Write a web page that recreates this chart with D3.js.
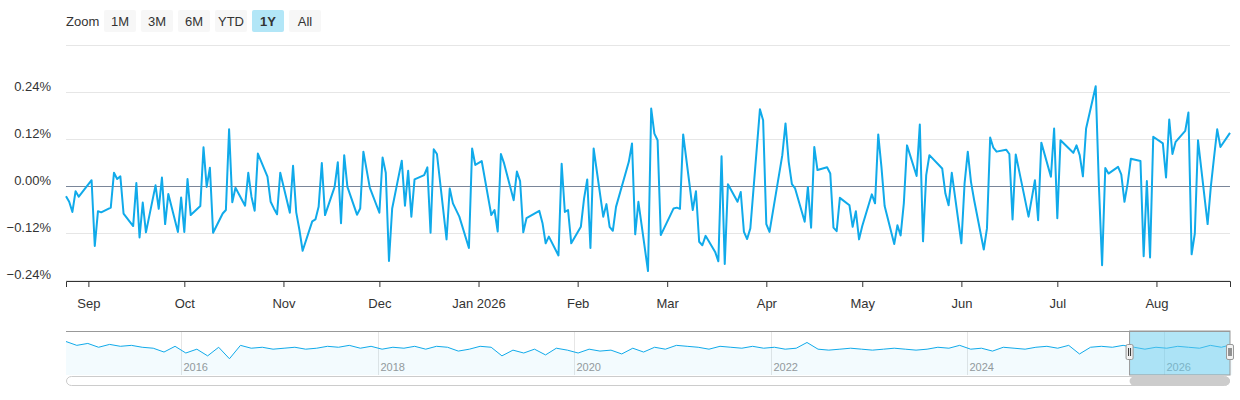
<!DOCTYPE html>
<html>
<head>
<meta charset="utf-8">
<script src="https://cdn.jsdelivr.net/npm/d3@7"></script>
<style>
  body { margin: 0; background: #fff; font-family: "Liberation Sans", Arial, sans-serif; }
</style>
</head>
<body>
<svg id="chart" width="1240" height="400"></svg>
<script>
// daily change, percent (trading days from 2025-08-25)
const values = [
  -0.025,-0.039,-0.065,-0.012,-0.026,0.016,-0.152,-0.063,-0.066,-0.054,0.035,0.019,0.026,-0.069,-0.101,0.009,
  -0.130,-0.041,-0.117,0.003,-0.057,0.023,-0.096,-0.019,-0.116,-0.028,-0.116,0.019,-0.073,-0.050,0.100,-0.001,
  0.048,-0.118,-0.069,-0.060,0.146,-0.040,-0.003,-0.049,0.035,-0.026,-0.062,0.084,0.025,-0.039,-0.056,-0.071,
  0.035,-0.067,0.053,-0.066,-0.111,-0.164,-0.089,-0.084,-0.052,0.060,-0.073,-0.001,0.062,-0.094,0.080,
  -0.001,-0.072,-0.056,0.089,-0.003,-0.067,0.074,0.035,-0.190,-0.056,0.066,-0.049,0.040,-0.077,0.018,0.029,
  0.049,-0.118,0.095,0.083,-0.135,-0.005,-0.043,-0.077,-0.157,0.097,0.055,0.065,-0.073,-0.060,-0.115,0.083,
  0.059,-0.035,0.038,0.014,-0.117,-0.081,-0.062,-0.093,-0.145,-0.128,-0.176,0.058,-0.065,-0.060,-0.145,-0.103,
  -0.031,0.018,-0.157,0.097,-0.077,-0.045,-0.103,-0.113,-0.052,0.063,0.110,-0.122,-0.039,-0.216,
  0.199,0.135,0.118,-0.124,-0.073,-0.056,-0.054,-0.057,0.133,-0.060,-0.012,-0.141,-0.150,-0.126,-0.167,-0.191,
  0.077,-0.198,0.006,-0.039,-0.014,-0.116,-0.134,-0.107,0.197,0.169,-0.096,-0.116,0.080,0.161,0.063,0.006,
  -0.005,-0.090,-0.001,-0.105,0.101,0.042,0.049,0.033,-0.105,-0.114,-0.029,-0.048,-0.103,-0.063,-0.135,-0.101,
  -0.020,-0.043,0.133,0.050,-0.050,-0.147,-0.099,-0.125,-0.043,0.105,0.027,0.158,-0.140,
  0.029,0.080,0.046,-0.018,-0.048,0.035,-0.145,0.008,0.089,0.012,-0.035,-0.161,-0.107,0.125,0.099,0.089,
  0.094,0.083,-0.084,0.082,-0.077,-0.031,0.016,-0.086,0.112,0.025,0.148,-0.081,0.118,0.086,0.105,0.080,
  0.026,0.148,0.256,0.003,-0.201,0.047,0.033,0.050,0.031,-0.039,0.008,0.071,0.065,-0.178,0.014,-0.181,
  0.127,0.110,0.023,0.171,0.083,0.114,0.142,0.189,-0.173,-0.120,0.118,-0.096,-0.001,0.074,0.146,0.101,0.137
];
const holidays = ['2025-09-01','2025-11-27','2025-12-25','2026-01-01','2026-01-19','2026-02-16',
  '2026-04-03','2026-05-25','2026-06-19','2026-07-03'];
const startDate = '2025-08-25';

// navigator: long history, one value roughly every 5 weeks (late 2014 .. 2026)
const navValues = [
  0.9,0.5,0.7,0.3,0.6,0.4,0.5,0.3,0.2,-0.2,0.4,-0.3,0.1,-0.6,0.3,-0.9,
  0.5,0.2,0.3,0.1,0.2,0.3,0.1,0.2,0.4,0.3,0.5,0.2,0.4,0.1,0.3,0.2,
  0.4,0.1,0.4,0.3,-0.1,0.1,0.4,0.3,-0.6,0.0,-0.3,0.1,-0.5,0.2,0.0,-0.3,
  0.1,-0.1,0.0,-0.4,0.2,-0.2,0.3,0.1,0.5,0.4,0.3,0.1,0.4,0.3,0.2,0.4,
  0.2,0.3,0.1,0.2,0.8,0.1,0.0,0.1,0.2,0.1,0.0,0.1,0.2,0.1,0.0,0.1,
  0.3,0.2,0.5,0.1,0.2,-0.1,0.3,0.2,0.1,0.3,0.4,0.2,0.5,-0.4,0.3,0.4,
  0.3,0.5,0.3,0.1,0.3,0.2,0.4,0.3,0.2,0.5,0.3,0.6
];
const navStart = '2014-11-01', navEnd = '2026-09-02';
const navYears = ['2016','2018','2020','2022','2024','2026'];

const zoomButtons = ['1M','3M','6M','YTD','1Y','All'];
const selectedButton = '1Y';
const yTicks = [-0.24,-0.12,0,0.12,0.24,0.36];

// build trading day dates
const parse = d3.timeParse('%Y-%m-%d');
const fmt = d3.timeFormat('%Y-%m-%d');
const dates = [];
let day = parse(startDate);
while (dates.length < values.length) {
  const wd = day.getDay();
  if (wd !== 0 && wd !== 6 && !holidays.includes(fmt(day))) dates.push(day);
  day = d3.timeDay.offset(day, 1);
}
const data = values.map((v, i) => ({date: dates[i], value: v}));

const svg = d3.select('#chart');
const font = '"Liberation Sans", Arial, sans-serif';
const left = 66, right = 1230;

// range selector
const rs = svg.append('g').attr('font-family', font).attr('font-size', 13);
rs.append('text').attr('x', 66).attr('y', 26).attr('fill', '#333').text('Zoom');
zoomButtons.forEach((b, i) => {
  const x = 104 + i * 37;
  const sel = b === selectedButton;
  rs.append('rect').attr('x', x).attr('y', 10).attr('width', 32).attr('height', 22).attr('rx', 2)
    .attr('fill', sel ? '#b2e6f7' : '#f7f7f7');
  rs.append('text').attr('x', x + 16).attr('y', 26).attr('text-anchor', 'middle')
    .attr('fill', '#333').attr('font-weight', sel ? 'bold' : 'normal').text(b);
});

// main chart
const x = d3.scaleTime().domain(d3.extent(dates)).range([left, right]);
const y = d3.scaleLinear().domain([-0.24, 0.36]).range([280.5, 45.5]);

const grid = svg.append('g');
yTicks.forEach(t => {
  grid.append('line').attr('x1', left).attr('x2', right).attr('y1', y(t)).attr('y2', y(t))
    .attr('stroke', t === 0 ? '#7a8699' : '#e6e6e6').attr('stroke-width', 1);
  if (t < 0.3) {
    svg.append('text').attr('x', 51).attr('y', y(t) - 2).attr('text-anchor', 'end')
      .attr('font-family', font).attr('font-size', 13).attr('fill', '#333')
      .text(d3.format('.2f')(t) + '%');
  }
});

const xAxis = d3.axisBottom(x)
  .ticks(d3.timeMonth.every(1))
  .tickSize(6)
  .tickPadding(12)
  .tickFormat(d => d.getMonth() === 0 ? d3.timeFormat('%b %Y')(d) : d3.timeFormat('%b')(d));
const xg = svg.append('g').attr('transform', 'translate(0,281)').call(xAxis);
xg.select('.domain').attr('stroke', '#333');
xg.selectAll('.tick line').attr('stroke', '#333');
xg.selectAll('text').attr('font-family', font).attr('font-size', 13).attr('fill', '#333');

svg.append('path').datum(data)
  .attr('fill', 'none').attr('stroke', '#10aaea').attr('stroke-width', 2)
  .attr('stroke-linejoin', 'round')
  .attr('d', d3.line().x(d => x(d.date)).y(d => y(d.value)));

// navigator
const navTop = 331, navBottom = 375;
const nx = d3.scaleTime().domain([parse(navStart), parse(navEnd)]).range([left, right]);
const nDates = navValues.map((v, i) => d3.timeDay.offset(parse(navStart), Math.round(i * 4331 / (navValues.length - 1))));
const ny = d3.scaleLinear().domain([-2.6, 2.0]).range([navBottom, navTop]);
const nav = svg.append('g');
navYears.forEach(yr => {
  const xx = Math.round(nx(parse(yr + '-01-01'))) + 0.5;
  nav.append('line').attr('x1', xx).attr('x2', xx).attr('y1', navTop).attr('y2', navBottom)
    .attr('stroke', '#e6e6e6');
  nav.append('text').attr('x', xx + 2).attr('y', navBottom - 4).attr('font-family', font)
    .attr('font-size', 11).attr('fill', '#999').text(yr);
});
const navData = navValues.map((v, i) => ({date: nDates[i], value: v}));
nav.append('path').datum(navData).attr('fill', '#10aaea').attr('fill-opacity', 0.05)
  .attr('d', d3.area().x(d => nx(d.date)).y0(navBottom).y1(d => ny(d.value)));
nav.append('path').datum(navData).attr('fill', 'none').attr('stroke', '#10aaea').attr('stroke-width', 1)
  .attr('d', d3.line().x(d => nx(d.date)).y(d => ny(d.value)));
const s0 = nx(dates[0]), s1 = right;
nav.append('rect').attr('x', s0).attr('y', navTop).attr('width', s1 - s0).attr('height', navBottom - navTop)
  .attr('fill', 'rgba(102,204,238,0.5)');
nav.append('line').attr('x1', left).attr('x2', right).attr('y1', navTop + 0.5).attr('y2', navTop + 0.5)
  .attr('stroke', '#999');
nav.append('rect').attr('x', s0).attr('y', navTop).attr('width', s1 - s0).attr('height', navBottom - navTop)
  .attr('fill', 'none').attr('stroke', '#999');
[s0, s1].forEach(hx => {
  nav.append('rect').attr('x', hx - 3.5).attr('y', 344.5).attr('width', 7).attr('height', 15).attr('rx', 1.5)
    .attr('fill', '#f2f2f2').attr('stroke', '#999');
  nav.append('line').attr('x1', hx - 1).attr('x2', hx - 1).attr('y1', 348).attr('y2', 356).attr('stroke', '#333');
  nav.append('line').attr('x1', hx + 1).attr('x2', hx + 1).attr('y1', 348).attr('y2', 356).attr('stroke', '#333');
});

// scrollbar
svg.append('rect').attr('x', 66.5).attr('y', 376.5).attr('width', 1163).attr('height', 9).attr('rx', 5)
  .attr('fill', '#fff').attr('stroke', '#ccc');
svg.append('rect').attr('x', s0).attr('y', 376.5).attr('width', s1 - s0).attr('height', 9).attr('rx', 5)
  .attr('fill', '#ccc');
</script>
</body>
</html>
